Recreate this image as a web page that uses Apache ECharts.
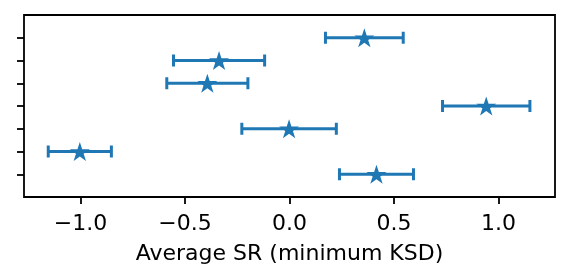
<!DOCTYPE html>
<html>
<head>
<meta charset="utf-8">
<script src="https://cdn.jsdelivr.net/npm/echarts@6/dist/echarts.min.js"></script>
<style>html,body{margin:0;padding:0;background:#fff}#c{width:571px;height:280px}</style>
</head>
<body>
<div id="c"></div>
<script>
// rows from bottom (0) to top (6)
const rows = [0, 1, 2, 3, 4, 5, 6];
const means = [0.416, -1.003, -0.002, 0.941, -0.393, -0.337, 0.358];
const errs = [0.177, 0.151, 0.226, 0.209, 0.194, 0.218, 0.186];
const xTicks = [-1.0, -0.5, 0.0, 0.5, 1.0];
const xLabel = 'Average SR (minimum KSD)';

const color = '#1f77b4';
const star = 'path://M0,-1 L0.2245,-0.309 L0.951,-0.309 L0.363,0.118 L0.588,0.809 L0,0.382 L-0.588,0.809 L-0.363,0.118 L-0.951,-0.309 L-0.2245,-0.309 Z';

const chart = echarts.init(document.getElementById('c'), null, {renderer: 'canvas'});
const errData = rows.map((r, i) => [means[i] - errs[i], means[i] + errs[i], r]);
const ptData = rows.map((r, i) => [means[i], r]);

chart.setOption({
  animation: false,
  grid: {left: 24, right: 16, top: 15, bottom: 83, show: true, borderColor: '#000', borderWidth: 1.8, backgroundColor: 'transparent'},
  xAxis: {
    type: 'value', min: -1.27, max: 1.27,
    splitLine: {show: false},
    axisLine: {show: false, onZero: false},
    axisTick: {show: true, customValues: xTicks, length: 7, lineStyle: {color: '#000', width: 1.8}},
    axisLabel: {show: true, customValues: xTicks, margin: 16, fontFamily: 'DejaVu Sans', fontSize: 22, color: '#000',
      formatter: v => (v < 0 ? '\u2212' : '') + Math.abs(v).toFixed(1)},
    name: xLabel, nameLocation: 'middle', nameGap: 46,
    nameTextStyle: {fontFamily: 'DejaVu Sans', fontSize: 22, color: '#000'}
  },
  yAxis: {
    type: 'value', min: -1, max: 7,
    splitLine: {show: false},
    axisLine: {show: false, onZero: false},
    axisTick: {show: true, customValues: rows, length: 7, lineStyle: {color: '#000', width: 1.8}},
    axisLabel: {show: false}
  },
  series: [
    {
      type: 'custom',
      data: errData,
      renderItem: (params, api) => {
        const lo = api.coord([api.value(0), api.value(2)]);
        const hi = api.coord([api.value(1), api.value(2)]);
        const h = 6;
        const style = {stroke: color, lineWidth: 3, fill: null};
        return {
          type: 'group',
          children: [
            {type: 'line', shape: {x1: lo[0], y1: lo[1], x2: hi[0], y2: hi[1]}, style},
            {type: 'line', shape: {x1: lo[0], y1: lo[1] - h, x2: lo[0], y2: lo[1] + h}, style},
            {type: 'line', shape: {x1: hi[0], y1: hi[1] - h, x2: hi[0], y2: hi[1] + h}, style}
          ]
        };
      },
      z: 2
    },
    {
      type: 'scatter',
      data: ptData,
      symbol: star,
      symbolSize: [20, 19],
      itemStyle: {color: color, opacity: 1},
      z: 3
    }
  ]
});
</script>
</body>
</html>
